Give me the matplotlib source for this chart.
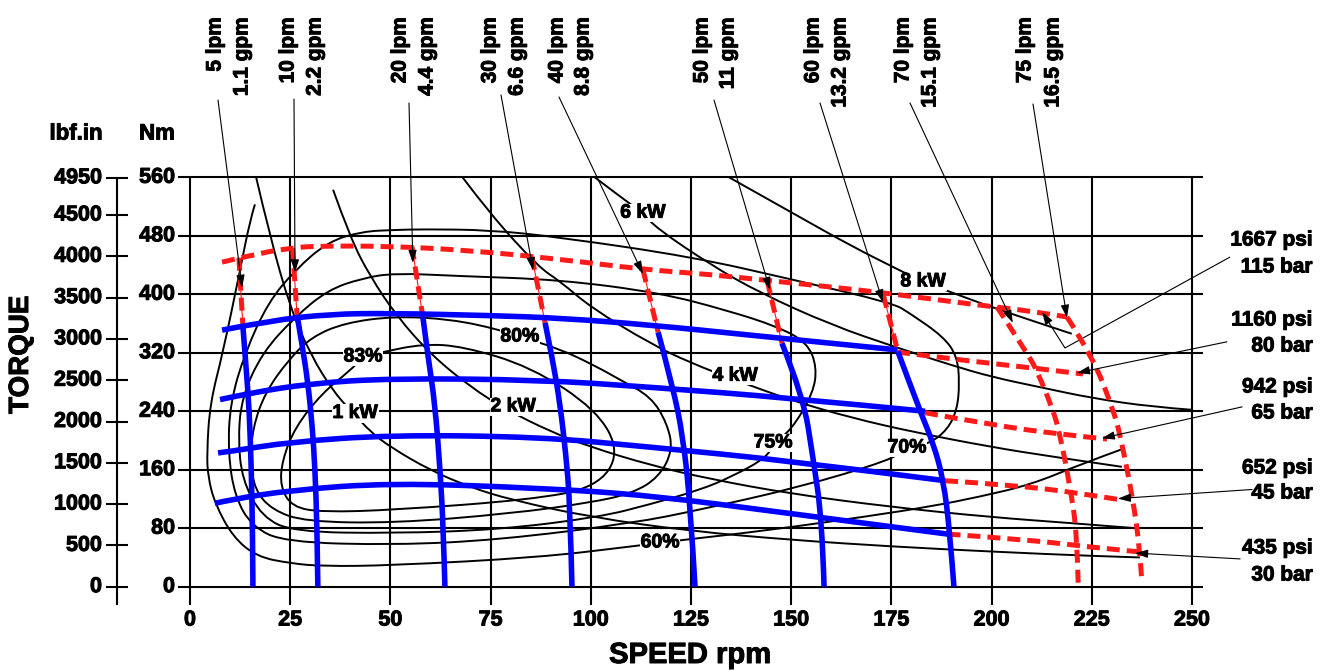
"""Hydraulic motor performance chart: torque vs speed with flow, pressure,
power and efficiency lines."""

import matplotlib

matplotlib.use("Agg")
import matplotlib.patheffects as pe
import matplotlib.pyplot as plt
from matplotlib.patches import PathPatch
from matplotlib.path import Path

# ---------------------------------------------------------------------------
# data: (speed rpm, torque Nm)
# ---------------------------------------------------------------------------
speed_ticks = [0, 25, 50, 75, 100, 125, 150, 175, 200, 225, 250]
nm_ticks = [0, 80, 160, 240, 320, 400, 480, 560]
lbf_ticks = [0, 500, 1000, 1500, 2000, 2500, 3000, 3500, 4000, 4500, 4950]
LBF_PER_NM = 8.8507

# constant flow lines (blue part, from the 80 bar line down to zero torque)
flow_05 = ([13.2, 14.0, 14.8, 15.3, 15.6, 15.7], [356, 300, 240, 160, 80, 0])
flow_10 = ([26.7, 28.0, 29.4, 30.5, 31.2, 31.7, 31.9], [372, 330, 280, 220, 160, 80, 0])
flow_20 = ([58.1, 59.5, 61.1, 62.4, 63.2, 63.6], [369, 310, 251, 160, 80, 0])
flow_30 = ([88.6, 90.5, 92.3, 93.8, 94.8, 95.3], [361, 310, 251, 180, 114, 0])
flow_40 = ([116.8, 120.5, 123.0, 124.8, 126.0], [348, 273, 205, 114, 0])
flow_50 = ([147.7, 153.0, 155.4, 157.7, 158.2], [333, 260, 178, 91, 0])
flow_60 = ([176.6, 182.0, 185.4, 188.0, 189.6, 190.6], [322, 242, 197, 146, 73, 0])

# red dashed continuation of the flow lines (115 bar down to 80 bar)
flow_05_ext = ([12.2, 13.2], [450, 356])
flow_10_ext = ([25.6, 26.7], [463, 372])
flow_20_ext = ([55.4, 58.1], [465, 369])
flow_30_ext = ([85.3, 88.6], [451, 361])
flow_40_ext = ([113.0, 116.8], [434, 348])
flow_50_ext = ([144.0, 147.7], [419, 333])
flow_60_ext = ([173.0, 176.6], [399, 322])
# intermittent flows, red dashed over the full height
flow_70 = ([201.3, 208.8, 211.3, 215.3, 217.0, 219.6, 221.3, 221.6],
           [383, 320, 296, 242, 210, 136, 73, 5])
flow_75 = ([218.8, 225.3, 230.3, 232.0, 235.3, 237.0, 237.5],
           [369, 314, 242, 210, 119, 50, 5])

flow_lpm = ["5 lpm", "10 lpm", "20 lpm", "30 lpm", "40 lpm",
            "50 lpm", "60 lpm", "70 lpm", "75 lpm"]
flow_gpm = ["1.1 gpm", "2.2 gpm", "4.4 gpm", "6.6 gpm", "8.8 gpm",
            "11 gpm", "13.2 gpm", "15.1 gpm", "16.5 gpm"]
# where each flow label's leader points
flow_tip_speed = [13.0, 26.2, 55.6, 85.6, 113.0, 144.7, 172.9, 205.3, 218.8]
flow_tip_torque = [409, 430, 443, 433, 428, 406, 389, 361, 368]

# constant pressure lines (blue, continuous duty)
press_80 = ([8, 20, 35, 50, 75, 92.3, 115, 140, 160, 176.4],
            [351, 364, 373, 374, 371, 367.5, 358, 344, 333, 324])
press_65 = ([7.5, 15, 30, 50, 87.3, 114.8, 150, 183.4],
            [256, 265, 278, 285, 283, 273, 258, 240])
press_45 = ([7, 10, 25, 50, 87.3, 114.8, 150, 188.4],
            [183, 185, 198, 207.5, 205, 191, 172, 145])
press_30 = ([6.2, 10, 25, 50, 87.3, 114.8, 150, 189],
            [114, 119, 132, 142, 135, 125, 100, 72])

# red dashed pressure lines (intermittent)
press_115 = ([8, 18.7, 25.4, 30.4, 49.4, 70, 92.3, 113, 130, 144, 160, 174.7, 197, 210, 218.8],
             [444, 458, 463, 466, 466, 460, 448, 434, 427, 419, 410, 401, 385, 377, 369])
press_80_ext = ([176.4, 197.0, 210.8, 222.8], [321, 307, 299, 291])
press_65_ext = ([183.4, 200.3, 217.8, 228.8], [238, 221, 208, 202])
press_45_ext = ([188.4, 205.3, 222.0, 232.0], [145, 139, 128, 119])
press_30_ext = ([189.0, 209.6, 223.8, 237.0], [72, 64, 54.6, 47.5])

press_psi = ["1667 psi", "1160 psi", "942 psi", "652 psi", "435 psi"]
press_bar = ["115 bar", "80 bar", "65 bar", "45 bar", "30 bar"]
press_tip_speed = [212.6, 221.3, 227.5, 231.5, 235.8]
press_tip_torque = [376, 292.5, 203, 120.5, 46]

# constant output power (black)
power_1kw = ([16.5, 20, 25, 30, 36, 41.2, 45, 50, 60, 70, 80, 100, 125, 150, 175, 200, 225, 237],
             [560, 478, 382, 318, 265, 235, 212, 191, 159, 136, 119, 95, 76, 64, 55, 48, 42, 40])
power_2kw = ([35.7, 40, 45, 51.6, 60, 70, 79, 90, 100, 115, 130, 150, 175, 200, 220, 236],
             [543, 477, 424, 370, 318, 273, 242, 212, 191, 166, 147, 127, 109, 95, 87, 80])
power_4kw = ([68, 75, 87, 92.3, 100, 115, 125, 135.9, 150, 165, 181, 200, 215, 232.5],
             [560, 509, 437, 418, 382, 332, 306, 283, 255, 231, 211, 191, 178, 164])
power_6kw = ([101, 106.5, 113, 116.5, 130, 142.2, 160, 176.4, 190, 200, 212, 225, 240, 250],
             [560, 537, 511, 490, 440, 402, 358, 327, 303, 287, 273, 258, 246, 242])
power_8kw = ([134.5, 150.4, 165, 177, 182.9, 188.4, 197.1, 210, 220],
             [560, 511, 466, 433, 417, 406, 388, 364, 346])
power_labels = ["1 kW", "2 kW", "4 kW", "6 kW", "8 kW"]
power_label_speed = [41.2, 80.6, 136.0, 113.0, 182.9]
power_label_torque = [237, 246, 288, 511, 417]

# efficiency contours (black); all closed except 60%
eff_83 = ([43.2, 48, 58, 68, 85, 101.5, 107.3, 101.5, 85, 51, 33, 25.5, 22.5, 23, 26.2, 33, 40, 43.2],
          [314.2, 321, 332, 329, 301, 242, 183, 136, 119, 105, 102, 109, 137, 173, 218, 265, 296, 314.2])
eff_80 = ([82.3, 92, 101.5, 107.3, 115, 119, 120.5, 117, 110.5, 100, 80, 51, 28.7, 20.5,
           16.2, 15, 15.7, 18.7, 24.5, 30.4, 38.7, 51, 65, 77, 82.3],
          [341.6, 326, 301, 283, 260, 224, 187, 150, 128, 115, 100, 87, 89, 105,
           132, 173, 218, 265, 310, 342, 361, 370, 366, 352, 341.6])
eff_75 = ([145.5, 150, 155.5, 156.4, 154, 146.5, 134, 117.3, 92.3, 67, 51, 43, 34.4, 26.2,
           18, 13, 12, 13, 18, 26, 51, 77, 102, 115, 127, 135, 144, 145.5],
          [196.6, 214, 265, 301, 334, 356, 378, 402, 420, 425, 429, 422, 406, 369,
           320, 260, 205, 146, 95, 75, 73, 78, 95, 113, 132, 150, 177, 196.6])
eff_70 = ([178.9, 184.6, 189, 191.4, 192, 191.4, 188, 179.6, 175.4, 150.4, 125.5, 92.3, 74.8, 58,
           51, 43, 34.4, 26.2, 19.5, 13.7, 10, 9.5, 11.2, 15.5, 23.7, 51, 77, 110.5, 127, 152,
           174.7, 178.9],
          [189.7, 196, 215, 242, 279, 315, 342, 374, 388, 420, 451, 478, 488, 489,
           488, 486, 472, 433, 389, 320, 251, 183, 123, 82, 61, 57, 64, 87, 105, 136,
           173, 189.7])
eff_60 = ([16.2, 15, 12.5, 8.2, 5, 4.2, 4.5, 6.2, 10.7, 16.7, 25, 33, 50, 87, 110, 117.3,
           123, 144, 170, 185, 197, 210, 222, 232.5],
          [523, 502, 433, 320, 251, 183, 150, 114, 68, 41, 32, 28, 29, 40, 55, 60,
           64, 77, 97, 110, 123, 140, 167, 188])
eff_labels = ["83%", "80%", "75%", "70%", "60%"]
eff_label_speed = [43.2, 82.3, 145.5, 178.9, 117.3]
eff_label_torque = [314.2, 341.6, 196.6, 189.7, 60.0]

# ---------------------------------------------------------------------------
# layout helpers: the chart is laid out in pixels of a 1320 x 670 image
# ---------------------------------------------------------------------------
W, H = 1320, 670
X0, SX = 190.0, 4.008   # pixel of 0 rpm, pixels per rpm
Y0, SY = 586.7, 0.731   # pixel of 0 Nm, pixels per Nm


def dx(px):
    return (px - X0) / SX


def dy(py):
    return (Y0 - py) / SY


def smooth_path(xs, ys):
    """Quadratic Bezier path using the read points as control points."""
    pts = list(zip(xs, ys))
    closed = len(pts) > 3 and pts[0] == pts[-1]
    if closed:
        pts = pts[:-1]
        m = len(pts)
        mids = [((pts[i][0] + pts[(i + 1) % m][0]) / 2,
                 (pts[i][1] + pts[(i + 1) % m][1]) / 2) for i in range(m)]
        verts, codes = [mids[-1]], [Path.MOVETO]
        for i in range(m):
            verts += [pts[i], mids[i]]
            codes += [Path.CURVE3, Path.CURVE3]
        return Path(verts, codes)
    if len(pts) < 3:
        return Path(pts)
    verts, codes = [pts[0]], [Path.MOVETO]
    for i in range(1, len(pts) - 1):
        if i == len(pts) - 2:
            end = pts[-1]
        else:
            end = ((pts[i][0] + pts[i + 1][0]) / 2, (pts[i][1] + pts[i + 1][1]) / 2)
        verts += [pts[i], end]
        codes += [Path.CURVE3, Path.CURVE3]
    return Path(verts, codes)


def draw(curve, **kw):
    patch = PathPatch(smooth_path(*curve), fill=False, capstyle="butt",
                      joinstyle="round", **kw)
    ax.add_patch(patch)


BLUE = "#0000ff"
RED = "#ff1a1a"

plt.rcParams["font.family"] = ["Liberation Sans", "DejaVu Sans"]
plt.rcParams["font.weight"] = "bold"
heavy = [pe.withStroke(linewidth=0.7, foreground="black")]

fig = plt.figure(figsize=(W / 100, H / 100), dpi=100)
ax = fig.add_axes([X0 / W, 1 - Y0 / H, 250 * SX / W, 560 * SY / H])
ax.set_xlim(0, 250)
ax.set_ylim(0, 560)
ax.axis("off")

line_kw = dict(color="black", clip_on=False, solid_capstyle="butt")
txt_kw = dict(path_effects=heavy)

# grid, which also serves as the tick marks
for n in speed_ticks:
    ax.plot([n, n], [dy(605), 560], lw=1.5, zorder=1, **line_kw)
    ax.text(n, dy(620), str(n), ha="center", va="center", fontsize=15.5, **txt_kw)
for t in nm_ticks:
    ax.plot([dx(178), dx(1203)], [t, t], lw=1.5, zorder=1, **line_kw)
    ax.text(dx(175), t, str(t), ha="right", va="center", fontsize=15.5, **txt_kw)

# secondary torque scale in lbf.in
ax.plot([dx(117), dx(117)], [dy(177), dy(605)], lw=1.5, **line_kw)
for v in lbf_ticks:
    t = v / LBF_PER_NM
    ax.plot([dx(106), dx(128)], [t, t], lw=1.5, **line_kw)
    ax.text(dx(102), t, str(v), ha="right", va="center", fontsize=15.5, **txt_kw)

ax.text(dx(76), dy(134), "lbf.in", ha="center", va="center", fontsize=16, **txt_kw)
ax.text(dx(157), dy(134), "Nm", ha="center", va="center", fontsize=16, **txt_kw)
ax.text(dx(21), dy(355), "TORQUE", rotation=90, ha="center", va="center",
        fontsize=20, **txt_kw)
ax.text(dx(690), dy(655), "SPEED rpm", ha="center", va="center", fontsize=21, **txt_kw)

# efficiency contours and power hyperbolas
for curve in [eff_83, eff_80, eff_75, eff_70, eff_60,
              power_1kw, power_2kw, power_4kw, power_6kw, power_8kw]:
    draw(curve, lw=1.4, edgecolor="black", zorder=2)

# intermittent (red dashed) lines
dash = (0, (2.6, 1.4))
for curve in [flow_05_ext, flow_10_ext, flow_20_ext, flow_30_ext,
              flow_40_ext, flow_50_ext, flow_60_ext]:
    draw(curve, lw=0.8, edgecolor=RED, zorder=3)
for curve in [press_115, press_80_ext, press_65_ext, press_45_ext, press_30_ext,
              flow_05_ext, flow_10_ext, flow_20_ext, flow_30_ext,
              flow_40_ext, flow_50_ext, flow_60_ext, flow_70, flow_75]:
    draw(curve, lw=3.6, edgecolor=RED, linestyle=dash, zorder=3)

# continuous (blue) lines
for curve in [press_80, press_65, press_45, press_30,
              flow_05, flow_10, flow_20, flow_30, flow_40, flow_50, flow_60]:
    draw(curve, lw=4.0, edgecolor=BLUE, zorder=4)

# labels sitting on the black curves
label_box = dict(facecolor="white", edgecolor="none", pad=0.5)
for text, n, t in zip(power_labels + eff_labels,
                      power_label_speed + eff_label_speed,
                      power_label_torque + eff_label_torque):
    ax.text(n, t, text, ha="center", va="center", fontsize=14,
            bbox=label_box, zorder=6, **txt_kw)

arrow_kw = dict(arrowstyle="-|>,head_length=0.55,head_width=0.18",
                color="black", lw=0.8, shrinkA=0, shrinkB=0,
                mutation_scale=14)

# flow labels along the top with their leaders
lpm_col = [215, 288, 400, 490, 557, 702, 813, 903, 1025]
gpm_col = [242, 315, 427, 517, 583, 728, 840, 930, 1053]
leader_x = [218, 294, 409, 501, 559, 714, 820, 910, 1033]
leader_y = [100, 99, 103, 95, 97, 100, 103, 103, 104]
for i in range(len(flow_lpm)):
    ax.text(dx(lpm_col[i]), dy(17), flow_lpm[i], rotation=90,
            ha="center", va="top", fontsize=15, **txt_kw)
    ax.text(dx(gpm_col[i]), dy(17), flow_gpm[i], rotation=90,
            ha="center", va="top", fontsize=15, **txt_kw)
    ax.annotate("", xy=(flow_tip_speed[i], flow_tip_torque[i]),
                xytext=(dx(leader_x[i]), dy(leader_y[i])),
                arrowprops=arrow_kw, annotation_clip=False, zorder=5)

# pressure labels on the right with their leaders
psi_y = [240, 320, 387, 468, 548]
bar_y = [267, 346, 413, 493, 575]
lead_start = [(259.5, 451), (258.7, 335), (262.5, 246), (265.0, 133), (262.0, 38)]
for i in range(len(press_psi)):
    ax.text(dx(1313), dy(psi_y[i]), press_psi[i], ha="right", va="center",
            fontsize=15, **txt_kw)
    ax.text(dx(1313), dy(bar_y[i]), press_bar[i], ha="right", va="center",
            fontsize=15, **txt_kw)
    start = lead_start[i]
    if i == 0:
        # the 115 bar leader has a kink before it reaches the dashed line
        kink = (218.3, 326.6)
        ax.plot([start[0], kink[0]], [start[1], kink[1]], lw=0.8, **line_kw)
        start = kink
    ax.annotate("", xy=(press_tip_speed[i], press_tip_torque[i]), xytext=start,
                arrowprops=arrow_kw, annotation_clip=False, zorder=5)

fig.savefig("out.png", dpi=100)
